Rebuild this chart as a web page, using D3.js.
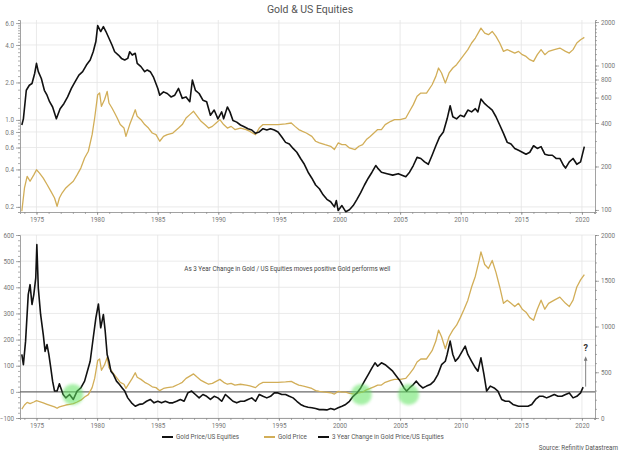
<!DOCTYPE html>
<html><head><meta charset="utf-8">
<script src="https://cdn.jsdelivr.net/npm/d3@7"></script>
<style>body{margin:0;background:#fff}svg{display:block;font-family:Roboto,'Open Sans',sans-serif}</style>
</head><body><svg id="c" width="620" height="451"></svg>
<script>
// ---------- data (decimal year, value) ----------
const ratioSeries = [[1973.79,0.91],[1973.92,1.02],[1974.16,1.73],[1974.41,1.90],[1974.63,1.96],[1974.85,2.36],[1975.0,2.85],[1975.15,2.44],[1975.4,2.15],[1975.65,1.73],[1975.87,1.58],[1976.08,1.40],[1976.33,1.27],[1976.64,1.02],[1976.95,1.23],[1977.26,1.35],[1977.57,1.53],[1977.88,1.79],[1978.19,2.03],[1978.5,2.29],[1978.81,2.44],[1979.12,2.76],[1979.43,3.03],[1979.68,3.53],[1979.9,4.26],[1980.05,5.73],[1980.3,5.13],[1980.52,5.62],[1980.73,5.13],[1980.98,4.53],[1981.23,4.0],[1981.45,3.53],[1981.76,3.32],[1982.01,3.12],[1982.28,3.03],[1982.53,3.12],[1982.69,3.53],[1982.9,3.32],[1983.15,3.43],[1983.31,2.85],[1983.62,2.68],[1983.93,2.44],[1984.14,2.52],[1984.39,2.44],[1984.64,2.22],[1985.01,1.79],[1985.17,1.58],[1985.48,1.68],[1985.79,1.63],[1986.1,1.53],[1986.41,1.58],[1986.72,1.79],[1987.03,1.49],[1987.34,1.53],[1987.65,1.40],[1987.86,2.09],[1988.11,1.73],[1988.42,1.63],[1988.73,1.44],[1989.04,1.40],[1989.35,1.09],[1989.66,1.20],[1989.97,1.02],[1990.28,1.16],[1990.44,1.02],[1990.75,1.27],[1990.96,1.16],[1991.21,0.99],[1991.52,0.96],[1991.83,0.91],[1992.14,0.88],[1992.45,0.85],[1992.76,0.83],[1993.07,0.78],[1993.38,0.80],[1993.69,0.85],[1994.0,0.83],[1994.31,0.85],[1994.62,0.83],[1994.93,0.80],[1995.24,0.73],[1995.55,0.66],[1995.86,0.64],[1996.17,0.59],[1996.48,0.55],[1996.79,0.49],[1997.1,0.44],[1997.41,0.38],[1997.72,0.34],[1998.03,0.30],[1998.34,0.28],[1998.65,0.25],[1998.96,0.23],[1999.27,0.22],[1999.58,0.20],[1999.74,0.225],[1999.89,0.187],[2000.2,0.205],[2000.51,0.183],[2000.82,0.19],[2001.13,0.205],[2001.44,0.23],[2001.75,0.26],[2002.06,0.30],[2002.37,0.34],[2002.68,0.38],[2002.99,0.43],[2003.15,0.41],[2003.46,0.38],[2003.92,0.37],[2004.39,0.36],[2004.85,0.37],[2005.16,0.36],[2005.47,0.35],[2005.78,0.38],[2006.09,0.43],[2006.4,0.50],[2006.71,0.49],[2007.02,0.46],[2007.33,0.44],[2007.64,0.52],[2007.95,0.62],[2008.26,0.73],[2008.57,0.80],[2008.88,1.02],[2009.13,1.30],[2009.35,1.06],[2009.66,1.02],[2009.97,1.09],[2010.28,1.06],[2010.59,1.20],[2010.9,1.16],[2011.21,1.23],[2011.42,1.16],[2011.67,1.47],[2011.98,1.35],[2012.29,1.27],[2012.6,1.20],[2012.91,1.06],[2013.22,0.91],[2013.53,0.78],[2013.84,0.66],[2014.15,0.64],[2014.46,0.59],[2014.77,0.57],[2015.08,0.55],[2015.39,0.53],[2015.7,0.55],[2016.01,0.62],[2016.32,0.59],[2016.63,0.61],[2016.94,0.53],[2017.25,0.52],[2017.56,0.52],[2017.87,0.49],[2018.18,0.49],[2018.49,0.43],[2018.65,0.41],[2018.96,0.46],[2019.27,0.49],[2019.58,0.44],[2019.89,0.46],[2020.2,0.61]];

const goldSeries = [[1973.79,98],[1974.01,142],[1974.23,171],[1974.47,158],[1974.78,175],[1975.0,190],[1975.25,180],[1975.56,166],[1975.87,150],[1976.18,135],[1976.49,121],[1976.7,106],[1976.89,121],[1977.11,131],[1977.42,142],[1977.73,150],[1978.04,158],[1978.35,175],[1978.66,195],[1978.97,229],[1979.28,255],[1979.59,332],[1979.8,433],[1980.05,628],[1980.21,645],[1980.36,522],[1980.61,580],[1980.83,662],[1980.98,550],[1981.23,508],[1981.45,469],[1981.66,433],[1981.91,390],[1982.22,369],[1982.38,323],[1982.69,390],[1982.9,433],[1983.15,494],[1983.31,445],[1983.62,422],[1983.93,390],[1984.24,369],[1984.55,341],[1984.86,332],[1985.17,299],[1985.48,323],[1985.79,332],[1986.25,341],[1986.72,369],[1987.03,390],[1987.34,433],[1987.65,457],[1987.96,482],[1988.27,445],[1988.58,411],[1988.89,390],[1989.2,369],[1989.51,379],[1989.82,400],[1990.13,422],[1990.44,390],[1990.75,369],[1991.06,379],[1991.37,360],[1991.83,369],[1992.3,360],[1992.61,350],[1993.07,332],[1993.38,369],[1993.69,390],[1994.31,390],[1994.93,390],[1995.55,394],[1996.02,400],[1996.33,379],[1996.64,360],[1996.95,350],[1997.26,341],[1997.72,323],[1998.03,299],[1998.34,291],[1998.81,283],[1999.27,276],[1999.58,262],[1999.89,291],[2000.2,283],[2000.51,283],[2000.82,269],[2001.29,262],[2001.6,276],[2001.91,283],[2002.22,307],[2002.53,323],[2002.84,341],[2003.15,360],[2003.46,360],[2003.77,390],[2004.23,411],[2004.54,422],[2005.0,422],[2005.47,433],[2005.78,482],[2006.09,536],[2006.4,612],[2006.71,645],[2007.18,645],[2007.64,736],[2007.95,841],[2008.17,961],[2008.42,888],[2008.73,757],[2009.04,888],[2009.35,961],[2009.66,1014],[2009.97,1097],[2010.28,1189],[2010.59,1288],[2010.9,1432],[2011.21,1550],[2011.52,1722],[2011.67,1816],[2011.98,1678],[2012.29,1634],[2012.6,1722],[2012.91,1592],[2013.22,1432],[2013.53,1253],[2013.84,1288],[2014.15,1253],[2014.46,1219],[2014.77,1253],[2015.08,1189],[2015.39,1156],[2015.7,1097],[2016.01,1068],[2016.32,1189],[2016.63,1288],[2016.94,1189],[2017.25,1253],[2017.72,1288],[2018.18,1321],[2018.65,1253],[2018.96,1219],[2019.27,1288],[2019.58,1432],[2019.89,1509],[2020.2,1567]];

const changeSeries = [[1973.79,143],[1973.92,104],[1974.1,194],[1974.32,372],[1974.47,410],[1974.63,334],[1974.78,372],[1974.94,436],[1975.03,563],[1975.15,397],[1975.34,296],[1975.56,219],[1975.71,155],[1975.87,181],[1976.02,143],[1976.18,92],[1976.33,41],[1976.49,3],[1976.7,3],[1976.89,31],[1977.01,15],[1977.2,-10],[1977.42,-23],[1977.73,-10],[1978.04,-29],[1978.35,3],[1978.66,15],[1978.97,41],[1979.28,92],[1979.43,117],[1979.68,206],[1979.9,283],[1980.11,336],[1980.3,245],[1980.52,296],[1980.67,232],[1980.83,143],[1980.98,117],[1981.14,79],[1981.35,66],[1981.6,41],[1981.85,28],[1982.07,15],[1982.28,3],[1982.53,-23],[1982.84,-42],[1983.15,-55],[1983.46,-48],[1983.77,-46],[1984.08,-36],[1984.39,-29],[1984.7,-42],[1985.01,-36],[1985.32,-42],[1985.63,-36],[1985.94,-42],[1986.25,-42],[1986.56,-36],[1986.87,-29],[1987.18,-36],[1987.49,-4],[1987.8,3],[1988.11,-10],[1988.42,-23],[1988.73,-10],[1989.04,-17],[1989.35,-29],[1989.66,-17],[1989.97,-23],[1990.28,-36],[1990.59,-10],[1990.9,-23],[1991.21,-36],[1991.52,-42],[1991.83,-36],[1992.14,-36],[1992.45,-29],[1992.76,-23],[1993.07,-36],[1993.38,-10],[1993.69,-17],[1994.0,-23],[1994.31,-17],[1994.62,-4],[1994.93,-4],[1995.24,-10],[1995.55,-10],[1995.86,-17],[1996.17,-23],[1996.48,-36],[1996.79,-48],[1997.1,-55],[1997.41,-59],[1997.72,-61],[1998.03,-64],[1998.34,-68],[1998.65,-68],[1998.96,-69],[1999.27,-64],[1999.58,-68],[1999.89,-61],[2000.2,-55],[2000.51,-48],[2000.82,-36],[2001.13,-17],[2001.44,-4],[2001.75,15],[2002.06,41],[2002.37,66],[2002.68,92],[2002.93,111],[2003.15,98],[2003.46,111],[2003.77,104],[2004.08,92],[2004.39,79],[2004.7,60],[2005.01,41],[2005.32,15],[2005.53,3],[2005.78,15],[2006.09,28],[2006.34,41],[2006.56,28],[2006.87,15],[2007.18,22],[2007.49,28],[2007.8,41],[2008.11,66],[2008.42,104],[2008.73,117],[2008.88,143],[2009.13,194],[2009.35,143],[2009.56,117],[2009.81,130],[2010.12,155],[2010.37,175],[2010.59,143],[2010.9,117],[2011.21,92],[2011.42,79],[2011.67,130],[2011.92,66],[2012.14,3],[2012.45,22],[2012.76,15],[2013.07,3],[2013.38,-29],[2013.69,-36],[2014.0,-36],[2014.31,-48],[2014.77,-55],[2015.24,-55],[2015.55,-55],[2015.86,-48],[2016.17,-29],[2016.48,-17],[2016.78,-17],[2017.09,-23],[2017.4,-17],[2017.72,-10],[2018.03,-17],[2018.34,-17],[2018.65,-10],[2018.96,-4],[2019.27,-23],[2019.58,-17],[2019.89,-4],[2020.1,18]];

const yearLabels = [1975,1980,1985,1990,1995,2000,2005,2010,2015,2020];
const ratioTicks = [0.2,0.4,0.6,0.8,1.0,2.0,4.0,6.0];
const goldTopTicks = [100,200,400,600,800,1000,2000];
const changeTicks = [-100,0,100,200,300,400,500,600];
const goldBotTicks = [0,500,1000,1500,2000];
const highlightYears = [1978.0, 2001.8, 2005.7];
const highlightValue = -10;
const legendItems = ["Gold Price/US Equities","Gold Price","3 Year Change in Gold Price/US Equities"];
const title = "Gold & US Equities";
const note = "As 3 Year Change in Gold / US Equities moves positive Gold performs well";
const source = "Source: Refinitiv Datastream";

// ---------- layout ----------
const svg = d3.select("#c");
const X0 = 20, X1 = 595;
const x = d3.scaleLinear().domain([1973.64, 2021.08]).range([X0, X1]);
const T0 = 20, T1 = 212;
const yRatio = d3.scaleLog().domain([0.182, 6.35]).range([T1, T0]);
const yGoldTop = d3.scaleLog().domain([96.8, 2066]).range([T1, T0]);
const B0 = 235, B1 = 418;
const yChange = d3.scaleLinear().domain([-100, 600]).range([B1, B0]);
const yGoldBot = d3.scaleLinear().domain([0, 2000]).range([B1, B0]);

const BLACK = "#111", GOLD = "#d2ae58", GRID = "#e4e4e4", AXIS = "#8a8a8a", TXT = "#777";

// defs
const defs = svg.append("defs");
defs.append("filter").attr("id","blur").attr("x","-50%").attr("y","-50%").attr("width","200%").attr("height","200%")
  .append("feGaussianBlur").attr("stdDeviation", 1.6);
defs.append("marker").attr("id","arr").attr("viewBox","0 0 10 10").attr("refX",5).attr("refY",5)
  .attr("markerWidth",5).attr("markerHeight",5).attr("orient","auto")
  .append("path").attr("d","M0,1 L10,5 L0,9 Z").attr("fill","#777");

// title
svg.append("text").attr("x", 310).attr("y", 13).attr("text-anchor","middle")
  .attr("font-size", 10.5).attr("fill", "#555").text(title);

// grid
function grid(yScale, ticks, top, bottom) {
  const g = svg.append("g");
  g.selectAll(".v").data(yearLabels).join("line")
    .attr("x1", d => x(d)).attr("x2", d => x(d)).attr("y1", top).attr("y2", bottom)
    .attr("stroke", GRID).attr("stroke-width", 0.8);
  g.selectAll(".h").data(ticks).join("line")
    .attr("x1", X0).attr("x2", X1).attr("y1", d => yScale(d)).attr("y2", d => yScale(d))
    .attr("stroke", GRID).attr("stroke-width", 0.8);
}
grid(yRatio, ratioTicks, T0, T1);
grid(yChange, changeTicks.filter(d => d !== 0), B0, B1);

function styleAxis(g) {
  g.selectAll("path.domain").attr("stroke", AXIS).attr("stroke-width", 0.8);
  g.selectAll(".tick line").attr("stroke", AXIS).attr("stroke-width", 0.7);
  g.selectAll(".tick text").attr("fill", TXT).attr("font-size", 6.3).attr("font-family","Roboto,'Open Sans',sans-serif");
}
const years = d3.range(1974, 2022);
function xAxis(yPos) {
  svg.append("g").attr("transform", `translate(0,${yPos})`)
    .call(d3.axisBottom(x).tickValues(years).tickSize(2).tickFormat(""))
    .call(styleAxis);
  svg.append("g").attr("transform", `translate(0,${yPos})`)
    .call(d3.axisBottom(x).tickValues(yearLabels).tickSize(3).tickPadding(3).tickFormat(d3.format("d")))
    .call(styleAxis).call(g => g.select("path.domain").remove());
}
xAxis(T1); xAxis(B1);

// top y axes
const ratioMinor = d3.range(0.2, 1.0, 0.05).concat(d3.range(1, 6.01, 0.25));
svg.append("g").attr("transform", `translate(${X0},0)`)
  .call(d3.axisLeft(yRatio).tickValues(ratioMinor).tickSize(2).tickFormat("")).call(styleAxis);
svg.append("g").attr("transform", `translate(${X0},0)`)
  .call(d3.axisLeft(yRatio).tickValues(ratioTicks).tickSize(4).tickPadding(2).tickFormat(d3.format(".1f")))
  .call(styleAxis).call(g => g.select("path.domain").remove());
const goldMinor = d3.range(100, 1000, 50).concat(d3.range(1000, 2001, 100));
svg.append("g").attr("transform", `translate(${X1},0)`)
  .call(d3.axisRight(yGoldTop).tickValues(goldMinor).tickSize(2).tickFormat("")).call(styleAxis);
svg.append("g").attr("transform", `translate(${X1},0)`)
  .call(d3.axisRight(yGoldTop).tickValues(goldTopTicks).tickSize(4).tickPadding(2).tickFormat(d3.format("d")))
  .call(styleAxis).call(g => g.select("path.domain").remove());

// bottom y axes
svg.append("g").attr("transform", `translate(${X0},0)`)
  .call(d3.axisLeft(yChange).tickValues(d3.range(-100, 601, 20)).tickSize(2).tickFormat("")).call(styleAxis);
svg.append("g").attr("transform", `translate(${X0},0)`)
  .call(d3.axisLeft(yChange).tickValues(changeTicks).tickSize(4).tickPadding(2).tickFormat(d3.format("d")))
  .call(styleAxis).call(g => g.select("path.domain").remove());
svg.append("g").attr("transform", `translate(${X1},0)`)
  .call(d3.axisRight(yGoldBot).tickValues(d3.range(0, 2001, 100)).tickSize(2).tickFormat("")).call(styleAxis);
svg.append("g").attr("transform", `translate(${X1},0)`)
  .call(d3.axisRight(yGoldBot).tickValues(goldBotTicks).tickSize(4).tickPadding(2).tickFormat(d3.format("d")))
  .call(styleAxis).call(g => g.select("path.domain").remove());

// zero line
svg.append("line").attr("x1", X0).attr("x2", X1).attr("y1", yChange(0)).attr("y2", yChange(0))
  .attr("stroke", "#6a6a6a").attr("stroke-width", 1.2);

// lines
function drawLine(data, ys, color, w) {
  svg.append("path").datum(data)
    .attr("d", d3.line().x(d => x(d[0])).y(d => ys(d[1])))
    .attr("fill", "none").attr("stroke", color).attr("stroke-width", w).attr("stroke-linejoin", "round");
}
drawLine(goldSeries, yGoldTop, GOLD, 1.3);
drawLine(ratioSeries, yRatio, BLACK, 1.6);
drawLine(goldSeries, yGoldBot, GOLD, 1.3);
drawLine(changeSeries, yChange, BLACK, 1.6);

// highlight circles
svg.append("g").selectAll("circle").data(highlightYears).join("circle")
  .attr("cx", d => x(d)).attr("cy", yChange(highlightValue)).attr("r", 10.5)
  .attr("fill", "#5fe35f").attr("opacity", 0.55).attr("filter", "url(#blur)");

// note
svg.append("text").attr("x", x(1987.2)).attr("y", yChange(464)).attr("font-size", 6.3)
  .attr("fill", "#444").text(note);

// arrow and question mark
const ax = x(2020.31);
svg.append("line").attr("x1", ax).attr("x2", ax).attr("y1", yChange(20)).attr("y2", yChange(128))
  .attr("stroke", "#777").attr("stroke-width", 0.9).attr("marker-end", "url(#arr)");
svg.append("text").attr("x", ax).attr("y", yChange(157)).attr("text-anchor", "middle")
  .attr("font-size", 9).attr("font-weight", "bold").attr("fill", "#333").text("?");

// legend
const legendX = [162, 264, 318];
const legendColors = [BLACK, GOLD, BLACK];
const lg = svg.append("g");
legendItems.forEach((t, i) => {
  lg.append("line").attr("x1", legendX[i]).attr("x2", legendX[i] + 11).attr("y1", 437).attr("y2", 437)
    .attr("stroke", legendColors[i]).attr("stroke-width", 2);
  lg.append("text").attr("x", legendX[i] + 14).attr("y", 439.3).attr("font-size", 6.3)
    .attr("fill", "#555").text(t);
});

// source
svg.append("text").attr("x", 618).attr("y", 450).attr("text-anchor", "end")
  .attr("font-size", 6.3).attr("fill", "#555").text(source);
</script></body></html>
